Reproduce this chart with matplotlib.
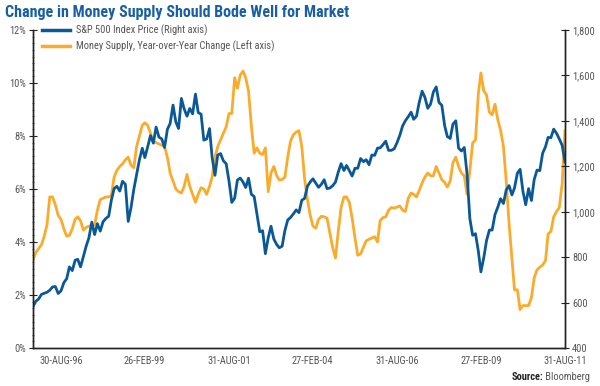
import matplotlib
matplotlib.use("Agg")
import matplotlib.pyplot as plt
from matplotlib import font_manager
from matplotlib.lines import Line2D
import matplotlib.ticker as mticker
import pandas as pd

# ---- font choice: prefer a narrow / condensed face ----
entries = font_manager.fontManager.ttflist
names = {f.name for f in entries}
condensed = {f.name for f in entries
             if str(f.stretch) in ("condensed", "semi-condensed", "extra-condensed", "ultra-condensed")
             or "Narrow" in f.name or "Condensed" in f.name}
FONT = None
for cand in ["Liberation Sans Narrow", "Roboto Condensed", "Open Sans Condensed",
             "Noto Sans Condensed", "DejaVu Sans Condensed", "DejaVu Sans"]:
    if cand in condensed:
        FONT = cand
        break
if FONT is None:
    FONT = sorted(condensed)[0] if condensed else ("Liberation Sans" if "Liberation Sans" in names else "DejaVu Sans")
plt.rcParams['font.family'] = [FONT, 'DejaVu Sans']
plt.rcParams['font.stretch'] = 'condensed'

# ---- data (monthly, Oct-1995 .. Aug-2011) ----
start_month = "1995-10-31"
end_month = "2011-08-31"

sp500 = [
    581.5, 605.4, 615.9,
    636.0, 640.4, 645.5, 654.2, 669.1, 670.6, 639.9, 652.0, 687.3, 705.3, 757.0, 740.7,
    786.2, 790.8, 757.1, 801.3, 848.3, 885.1, 954.3, 899.5, 947.3, 914.6, 955.4, 970.4,
    980.3, 1049.3, 1101.8, 1111.8, 1090.8, 1133.8, 1120.7, 957.3, 1017.0, 1098.7, 1163.6, 1229.2,
    1279.6, 1238.3, 1286.4, 1335.2, 1301.8, 1372.7, 1328.7, 1320.4, 1282.7, 1362.9, 1388.9, 1469.3,
    1394.5, 1366.4, 1498.6, 1452.4, 1420.6, 1454.6, 1430.8, 1517.7, 1436.5, 1429.4, 1315.2, 1320.3,
    1366.0, 1239.9, 1160.3, 1249.5, 1255.8, 1224.4, 1211.2, 1133.6, 1041.0, 1059.8, 1139.5, 1148.1,
    1130.2, 1106.7, 1147.4, 1076.9, 1067.1, 989.8, 911.6, 916.1, 815.3, 885.8, 936.3, 879.8,
    855.7, 841.2, 848.2, 916.9, 963.6, 974.5, 990.3, 1008.0, 996.0, 1050.7, 1058.2, 1111.9,
    1131.1, 1144.9, 1126.2, 1107.3, 1120.7, 1140.8, 1101.7, 1104.2, 1114.6, 1130.2, 1173.8, 1211.9,
    1181.3, 1203.6, 1180.6, 1156.9, 1191.5, 1191.3, 1234.2, 1220.3, 1228.8, 1207.0, 1249.5, 1248.3,
    1280.1, 1280.7, 1294.9, 1310.6, 1270.1, 1270.2, 1276.7, 1303.8, 1335.9, 1377.9, 1400.6, 1418.3,
    1438.2, 1406.8, 1420.9, 1482.4, 1530.6, 1503.4, 1455.3, 1474.0, 1526.8, 1549.4, 1481.1, 1468.4,
    1378.6, 1330.6, 1322.7, 1385.6, 1400.4, 1280.0, 1267.4, 1282.8, 1166.4, 968.8, 896.2, 903.3,
    825.9, 735.1, 797.9, 872.8, 919.1, 919.3, 987.5, 1020.6, 1057.1, 1036.2, 1095.6, 1115.1,
    1073.9, 1104.5, 1169.4, 1186.7, 1089.4, 1030.7, 1101.6, 1049.3, 1141.2, 1183.3, 1180.6, 1257.6,
    1286.1, 1327.2, 1325.8, 1363.6, 1345.2, 1320.6, 1292.3, 1218.9,
]

money_yoy = [
    3.32, 3.6, 3.75, 3.9, 4.2, 4.65, 5.7, 5.7, 5.4, 5.0,
    4.85, 4.5, 4.22, 4.25, 4.5, 4.85, 4.95, 4.8, 4.45, 4.55,
    4.6, 4.6, 4.65, 5.2, 5.6, 5.65, 5.7, 5.7, 5.75, 6.45,
    6.7, 6.85, 6.95, 7.1, 7.2, 6.9, 6.8, 7.6, 8.0, 8.4,
    8.5, 8.4, 8.1, 7.8, 7.75, 7.7, 7.65, 7.6, 7.2, 6.6,
    6.3, 6.0, 5.9, 5.85, 6.1, 6.55, 6.1, 5.8, 5.5, 5.8,
    6.05, 6.0, 5.8, 6.1, 6.45, 7.2, 7.6, 7.85, 8.1, 8.35,
    8.85, 8.85, 10.2, 9.8, 10.3, 10.45, 10.2, 9.7, 8.4, 7.35,
    7.55, 7.35, 7.3, 7.55, 5.9, 6.6, 6.85, 6.5, 6.34, 6.36,
    6.45, 7.2, 7.8, 8.05, 8.15, 8.2, 7.6, 6.4, 5.6, 5.0,
    4.6, 4.52, 4.85, 4.97, 4.95, 4.9, 4.35, 3.8, 3.4, 4.4,
    5.3, 5.7, 5.7, 5.5, 4.9, 4.15, 3.5, 3.55, 3.8, 4.05,
    4.1, 4.15, 4.2, 4.0, 4.8, 4.92, 4.95, 5.2, 5.3, 5.28,
    5.32, 5.36, 5.2, 5.15, 5.65, 5.85, 5.8, 5.7, 5.95, 6.23,
    6.45, 6.6, 6.5, 6.5, 6.85, 6.6, 6.35, 6.25, 6.07, 6.3,
    7.0, 7.2, 6.85, 6.6, 6.5, 5.8, 6.7, 7.74, 7.85, 9.6,
    10.38, 9.7, 9.55, 8.9, 8.8, 9.2, 8.6, 8.22, 7.6, 6.3,
    4.7, 3.4, 2.19, 2.2, 1.45, 1.6, 1.6, 1.6, 1.9, 2.65,
    2.95, 3.05, 3.13, 3.3, 4.3, 4.4, 4.95, 5.15, 5.3, 6.2,
    8.2,
]

tick_dates = ["1996-08-30", "1999-02-26", "2001-08-31", "2004-02-27",
              "2006-08-31", "2009-02-27", "2011-08-31"]
tick_labels = ["30-AUG-96", "26-FEB-99", "31-AUG-01", "27-FEB-04",
               "31-AUG-06", "27-FEB-09", "31-AUG-11"]
left_ticks = [0, 2, 4, 6, 8, 10, 12]
right_ticks = [400, 600, 800, 1000, 1200, 1400, 1600, 1800]

dates = pd.date_range(start_month, end_month, freq="ME")

BLUE = "#0b5896"
ORANGE = "#fbab2b"
GREY = "#555555"
TICKSIZE = 7.0 if FONT not in condensed else 7.5

fig = plt.figure(figsize=(6.0, 3.86), dpi=100)
ax = fig.add_axes([33/600, 1-348/386, (565-33)/600, (348-30)/386])
ax2 = ax.twinx()

ax.plot(dates, money_yoy, color=ORANGE, lw=2.0, solid_joinstyle="round")
ax2.plot(dates, sp500, color=BLUE, lw=2.0, solid_joinstyle="round")

ax.set_xlim(dates[0], dates[-1])
ax.set_ylim(0, 12)
ax2.set_ylim(400, 1800)

ax.set_yticks(left_ticks)
ax.set_yticklabels([f"{t}%" for t in left_ticks])
ax2.set_yticks(right_ticks)
ax2.set_yticklabels([f"{t:,}" for t in right_ticks])
ax.set_xticks(pd.to_datetime(tick_dates))
ax.set_xticklabels(tick_labels)

for a in (ax, ax2):
    a.spines["top"].set_visible(False)
    for s in ("left", "right", "bottom"):
        a.spines[s].set_color("#222222")
        a.spines[s].set_linewidth(1.0)
ax.tick_params(axis="y", direction="inout", length=6, width=0.8, colors="#222222",
               labelcolor=GREY, labelsize=TICKSIZE, pad=2)
ax2.tick_params(axis="y", direction="inout", length=6, width=0.8, colors="#222222",
                labelcolor=GREY, labelsize=TICKSIZE, pad=2)
ax.tick_params(axis="x", length=0, labelcolor=GREY, labelsize=TICKSIZE, pad=6)
ax.yaxis.set_minor_locator(mticker.MultipleLocator(0.25))
ax.tick_params(axis="y", which="minor", direction="inout", length=2, width=0.5, colors="#444444")

handles = [Line2D([0], [0], color=BLUE, lw=2.5), Line2D([0], [0], color=ORANGE, lw=2.5)]
leg = ax2.legend(handles, ["S&P 500 Index Price (Right axis)",
                           "Money Supply, Year-over-Year Change (Left axis)"],
                 loc="upper left", bbox_to_anchor=(0.01, 1.03), frameon=False,
                 fontsize=TICKSIZE, handlelength=2.6, handletextpad=0.6, labelspacing=0.45,
                 borderaxespad=0.0)
for t in leg.get_texts():
    t.set_color(GREY)

title = fig.text(5/600, 1-12/386, "Change in Money Supply Should Bode Well for Market",
                 ha="left", va="center", fontsize=12, fontweight="bold", color="#1a5fa3")
fig.canvas.draw()
r = fig.canvas.get_renderer()
size = 12.0
while title.get_window_extent(r).width > 352 and size > 9.0:
    size -= 0.25
    title.set_fontsize(size)

src = fig.text(590/600, 1-377/386, " Bloomberg", ha="right", va="center", fontsize=TICKSIZE,
               color=GREY)
bb = src.get_window_extent(r)
fig.text(bb.x0/600, 1-377/386, "Source:", ha="right", va="center", fontsize=TICKSIZE,
         fontweight="bold", color="#222222")

fig.savefig("out.png", dpi=100)
